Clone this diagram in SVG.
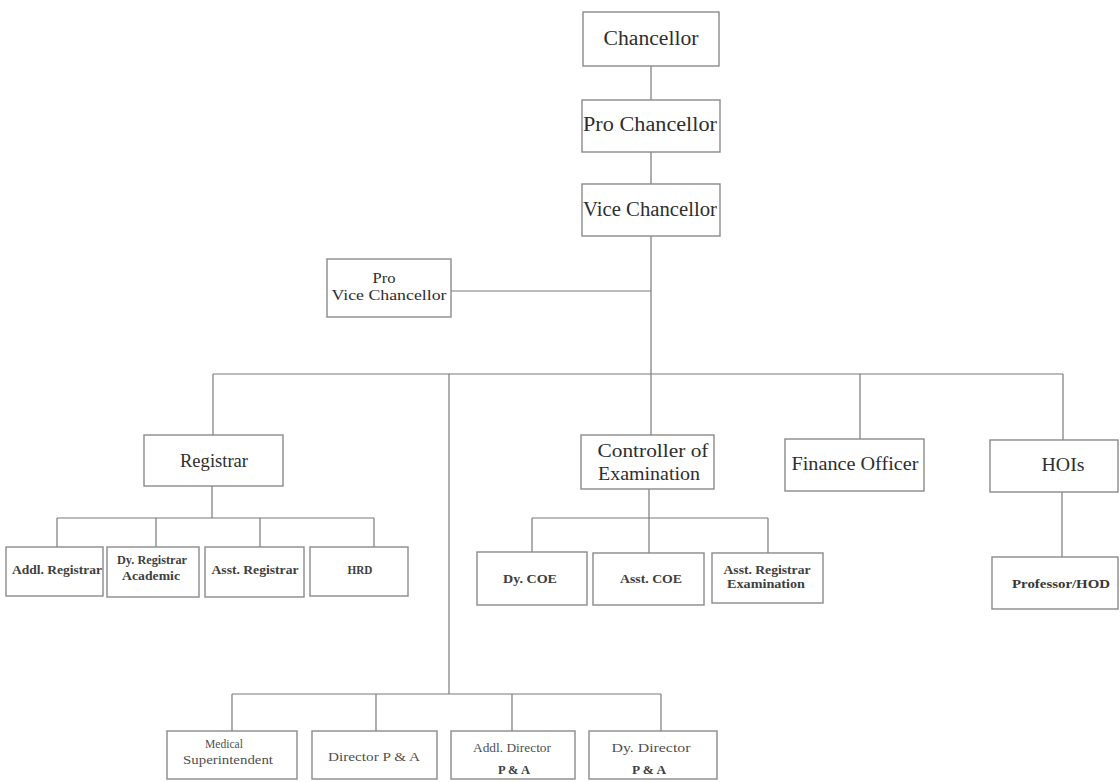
<svg xmlns="http://www.w3.org/2000/svg" width="1120" height="782" viewBox="0 0 1120 782">
<style>
.box{fill:#fff;stroke:#8a8a8a;stroke-width:1.4}
.ln{fill:none;stroke:#7a7a7a;stroke-width:1.2}
text{font-family:"Liberation Serif","DejaVu Serif",serif;fill:#2e2e2e;text-anchor:middle}
.lg{font-size:20px}
.md{font-size:19px}
.pv{font-size:15px}
.sm{font-size:12.5px;font-weight:bold;fill:#383838}
.xs{font-size:12px;fill:#505050}
.xsb{font-size:12px;font-weight:bold;fill:#404040}
</style>
<rect width="1120" height="782" fill="#fff"/>
<g id="connectors">
<path class="ln" d="M651,66 V100 M651,152 V184 M651,236 V435"/>
<path class="ln" d="M451,291 H651"/>
<path class="ln" d="M213,374 H1063 M213,374 V435 M449,374 V694 M860,374 V439 M1063,374 V440"/>
<path class="ln" d="M212,486 V518 M57,518 H374 M57,518 V547 M156,518 V547 M260,518 V547 M374,518 V547"/>
<path class="ln" d="M649,489 V553 M532,518 H768 M532,518 V552 M768,518 V553"/>
<path class="ln" d="M1062,492 V557"/>
<path class="ln" d="M232,694 H661 M232,694 V731 M376,694 V731 M512,694 V731 M661,694 V731"/>
</g>
<g id="chancellor"><rect class="box" x="583" y="12" width="136" height="54"/><text class="lg" x="651" y="45" textLength="95" lengthAdjust="spacingAndGlyphs">Chancellor</text></g>
<g id="pro-chancellor"><rect class="box" x="582" y="100" width="138" height="52"/><text class="lg" x="650" y="131" textLength="134" lengthAdjust="spacingAndGlyphs">Pro Chancellor</text></g>
<g id="vice-chancellor"><rect class="box" x="582" y="184" width="138" height="52"/><text class="lg" x="650" y="216" textLength="134" lengthAdjust="spacingAndGlyphs">Vice Chancellor</text></g>
<g id="pro-vice-chancellor"><rect class="box" x="327" y="259" width="124" height="58"/><text class="pv" x="384" y="283" textLength="23" lengthAdjust="spacingAndGlyphs">Pro</text><text class="pv" x="389" y="300" textLength="115" lengthAdjust="spacingAndGlyphs">Vice Chancellor</text></g>
<g id="registrar"><rect class="box" x="144" y="435" width="139" height="51"/><text class="md" x="214" y="467" textLength="68" lengthAdjust="spacingAndGlyphs">Registrar</text></g>
<g id="controller"><rect class="box" x="581" y="435" width="133" height="54"/><text class="md" x="653" y="457" textLength="111" lengthAdjust="spacingAndGlyphs">Controller of</text><text class="md" x="649" y="480" textLength="102" lengthAdjust="spacingAndGlyphs">Examination</text></g>
<g id="finance-officer"><rect class="box" x="785" y="439" width="139" height="52"/><text class="md" x="855" y="470" textLength="127" lengthAdjust="spacingAndGlyphs">Finance Officer</text></g>
<g id="hois"><rect class="box" x="990" y="440" width="128" height="52"/><text class="md" x="1063" y="471" textLength="43" lengthAdjust="spacingAndGlyphs">HOIs</text></g>
<g id="addl-registrar"><rect class="box" x="6" y="547" width="97" height="49"/><text class="xsb" x="57" y="574" textLength="90" lengthAdjust="spacingAndGlyphs">Addl. Registrar</text></g>
<g id="dy-registrar"><rect class="box" x="107" y="547" width="92" height="50"/><text class="xsb" x="152" y="564" textLength="70" lengthAdjust="spacingAndGlyphs">Dy. Registrar</text><text class="xsb" x="151" y="580" textLength="58" lengthAdjust="spacingAndGlyphs">Academic</text></g>
<g id="asst-registrar"><rect class="box" x="205" y="547" width="99" height="50"/><text class="xsb" x="255" y="574" textLength="87" lengthAdjust="spacingAndGlyphs">Asst. Registrar</text></g>
<g id="hrd"><rect class="box" x="310" y="547" width="98" height="49"/><text class="xsb" x="360" y="574" textLength="25" lengthAdjust="spacingAndGlyphs">HRD</text></g>
<g id="dy-coe"><rect class="box" x="477" y="552" width="110" height="53"/><text class="xsb" x="530" y="583" textLength="54" lengthAdjust="spacingAndGlyphs">Dy. COE</text></g>
<g id="asst-coe"><rect class="box" x="593" y="553" width="111" height="52"/><text class="xsb" x="651" y="583" textLength="62" lengthAdjust="spacingAndGlyphs">Asst. COE</text></g>
<g id="asst-registrar-exam"><rect class="box" x="712" y="553" width="111" height="50"/><text class="xsb" x="767" y="574" textLength="87" lengthAdjust="spacingAndGlyphs">Asst. Registrar</text><text class="xsb" x="766" y="588" textLength="78" lengthAdjust="spacingAndGlyphs">Examination</text></g>
<g id="professor-hod"><rect class="box" x="992" y="557" width="126" height="52"/><text class="sm" x="1061" y="588" textLength="98" lengthAdjust="spacingAndGlyphs">Professor/HOD</text></g>
<g id="medical-superintendent"><rect class="box" x="167" y="731" width="130" height="48"/><text class="xs" x="224" y="748" textLength="38" lengthAdjust="spacingAndGlyphs">Medical</text><text class="xs" x="228" y="764" textLength="90" lengthAdjust="spacingAndGlyphs">Superintendent</text></g>
<g id="director-pa"><rect class="box" x="312" y="731" width="125" height="48"/><text class="xs" x="374" y="761" textLength="92" lengthAdjust="spacingAndGlyphs">Director P &amp; A</text></g>
<g id="addl-director"><rect class="box" x="451" y="731" width="124" height="48"/><text class="xs" x="512" y="752" textLength="78" lengthAdjust="spacingAndGlyphs">Addl. Director</text><text class="xsb" x="514" y="774" textLength="32" lengthAdjust="spacingAndGlyphs">P &amp; A</text></g>
<g id="dy-director"><rect class="box" x="589" y="731" width="128" height="48"/><text class="xs" x="651" y="752" textLength="79" lengthAdjust="spacingAndGlyphs">Dy. Director</text><text class="xsb" x="649" y="774" textLength="34" lengthAdjust="spacingAndGlyphs">P &amp; A</text></g>
</svg>
